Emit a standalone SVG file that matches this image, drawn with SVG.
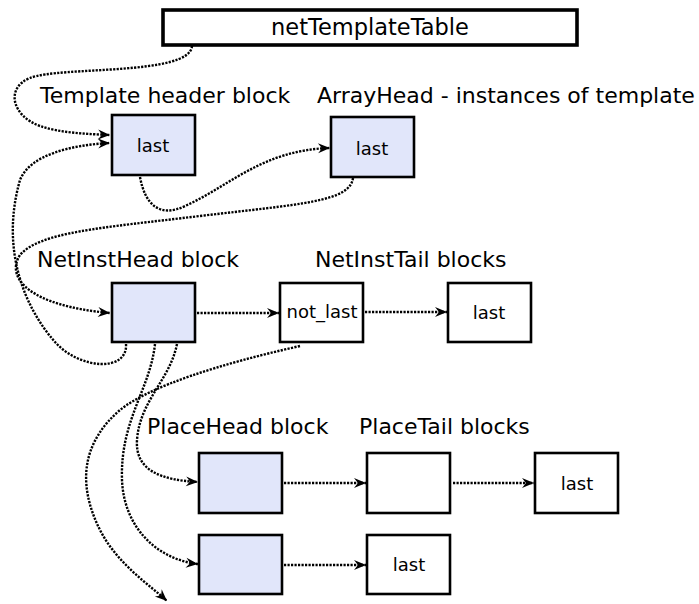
<svg xmlns="http://www.w3.org/2000/svg" width="699" height="604" viewBox="0 0 699 604">
<style>
.box{stroke:#000;stroke-width:2.6;fill:#fff}
.head{fill:#e1e6fa}
.lbl{font-family:"DejaVu Sans",sans-serif;font-size:22px;fill:#000}
.txt{font-family:"DejaVu Sans",sans-serif;font-size:18px;fill:#000;text-anchor:middle}
.c{fill:none;stroke:#000;stroke-width:2.4;stroke-dasharray:2.2 1.3;marker-end:url(#ar)}
</style>
<defs>
<marker id="ar" markerUnits="userSpaceOnUse" markerWidth="16" markerHeight="12" viewBox="-13 -6 16 12" refX="0" refY="0" orient="auto">
<path d="M0,0 L-12,-5 L-8,0 L-12,5 Z" fill="#000"/>
</marker>
</defs>
<rect width="699" height="604" fill="#fff"/>
<g id="netTemplateTable">
<rect x="163" y="10" width="414" height="35" fill="#fff" stroke="#000" stroke-width="3.6"/>
<text class="lbl" x="370" y="35" text-anchor="middle" style="font-size:22.5px">netTemplateTable</text>
</g>
<g id="labels">
<text class="lbl" x="40" y="103">Template header block</text>
<text class="lbl" x="317" y="103">ArrayHead - instances of template</text>
<text class="lbl" x="37" y="267">NetInstHead block</text>
<text class="lbl" x="315" y="267">NetInstTail blocks</text>
<text class="lbl" x="147" y="434">PlaceHead block</text>
<text class="lbl" x="359" y="434">PlaceTail blocks</text>
</g>
<g id="templateHeader">
<rect class="box head" x="112" y="115" width="83" height="60"/>
<text class="txt" x="153" y="152">last</text>
</g>
<g id="arrayHead">
<rect class="box head" x="331" y="117" width="83" height="60"/>
<text class="txt" x="372" y="155">last</text>
</g>
<g id="netInstHead">
<rect class="box head" x="112" y="283" width="83" height="59"/>
</g>
<g id="netInstTail1">
<rect class="box" x="280" y="283" width="83" height="59"/>
<text class="txt" x="322" y="318">not_last</text>
</g>
<g id="netInstTail2">
<rect class="box" x="448" y="283" width="83" height="59"/>
<text class="txt" x="489" y="319">last</text>
</g>
<g id="placeHead1">
<rect class="box head" x="199" y="453" width="83" height="60"/>
</g>
<g id="placeHead2">
<rect class="box head" x="199" y="535" width="83" height="59"/>
</g>
<g id="placeTail1">
<rect class="box" x="367" y="453" width="83" height="60"/>
</g>
<g id="placeTail2">
<rect class="box" x="535" y="453" width="83" height="60"/>
<text class="txt" x="577" y="490">last</text>
</g>
<g id="placeTail3">
<rect class="box" x="367" y="535" width="83" height="59"/>
<text class="txt" x="409" y="571">last</text>
</g>
<g id="connectors">
<path class="c" d="M192,46 C190,76 60,66 30,78 C5,88 12,116 40,126 C60,133 88,134 110,135"/>
<path class="c" d="M126,344 C128,372 80,370 55,342 C25,308 0,250 20,180 C30,155 70,145 110,143"/>
<path class="c" d="M140,177 C145,205 160,218 185,206 C230,186 262,150 330,148"/>
<path class="c" d="M353,178 C350,202 300,204 200,216 C100,228 40,232 20,255 C5,278 30,306 110,313"/>
<path class="c" d="M197,313 L279,313"/>
<path class="c" d="M365,312 L447,312"/>
<path class="c" d="M300,346 C220,364 150,386 120,410 C85,440 75,480 100,530 C118,565 150,585 167,601"/>
<path class="c" d="M155,344 C150,390 120,420 122,480 C124,530 160,560 198,564"/>
<path class="c" d="M177,344 C170,380 140,400 137,440 C135,470 160,480 198,482"/>
<path class="c" d="M284,483 L366,483"/>
<path class="c" d="M453,483 L534,483"/>
<path class="c" d="M284,565 L366,565"/>
</g>
</svg>
